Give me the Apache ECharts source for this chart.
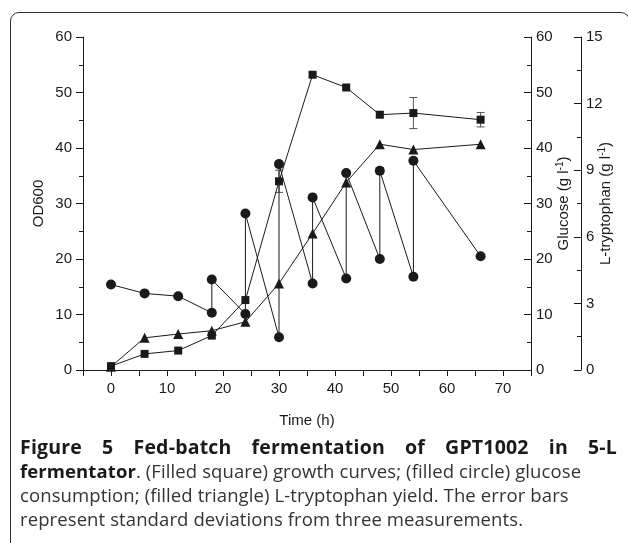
<!DOCTYPE html>
<html>
<head>
<meta charset="utf-8">
<script src="https://cdn.jsdelivr.net/npm/echarts@6/dist/echarts.min.js"></script>
<style>
  html, body { margin: 0; padding: 0; background: #fff; }
  #frame {
    position: absolute; left: 10px; top: 12px; width: 620px; height: 600px;
    border: 1.5px solid #333; border-radius: 9px; box-sizing: border-box;
  }
  #chart { position: absolute; left: 0; top: 0; width: 628px; height: 543px; }
  #caption {
    position: absolute; left: 20px; top: 435px; width: 597px;
    font-family: "Open Sans", "Noto Sans", sans-serif; font-size: 18.5px;
    letter-spacing: 0.1px; line-height: 24px; color: #333;
  }
  #caption div { white-space: nowrap; }
  #caption .first { text-align: justify; text-align-last: justify; white-space: normal; font-size: 19.5px; letter-spacing: 0.2px; }
  #caption b { color: #1a1a1a; }
</style>
</head>
<body>
<div id="frame"></div>
<div id="chart"></div>
<div id="caption">
  <div class="first"><b>Figure 5 Fed-batch fermentation of GPT1002 in 5-L</b></div>
  <div><b>fermentator</b>. (Filled square) growth curves; (filled circle) glucose</div>
  <div>consumption; (filled triangle) L-tryptophan yield. The error bars</div>
  <div>represent standard deviations from three measurements.</div>
</div>
<script>
// OD600 (filled squares)
var odTime = [0, 6, 12, 18, 24, 30, 36, 42, 48, 54, 66];
var od600 = [0.7, 2.9, 3.5, 6.2, 12.6, 34.0, 53.2, 50.9, 46.0, 46.3, 45.1];
var odErr = [0, 0, 0, 0, 0, 2.0, 0.3, 0.4, 0.5, 2.8, 1.3];

// glucose (filled circles), fed at each vertical jump
var glcTime = [0, 6, 12, 18, 18, 24, 24, 30, 30, 36, 36, 42, 42, 48, 48, 54, 54, 66];
var glucose = [15.4, 13.8, 13.3, 10.3, 16.3, 10.1, 28.2, 5.9, 37.1, 15.6, 31.1, 16.5, 35.5, 20.0, 35.9, 16.8, 37.7, 20.5];
var glcErr = [0, 0, 0, 0, 0, 0, 0, 0, 0, 0, 0, 0, 0.3, 0, 0.6, 0, 0, 0];

// L-tryptophan (filled triangles)
var trpTime = [0, 6, 12, 18, 24, 30, 36, 42, 48, 54, 66];
var tryptophan = [0.15, 1.45, 1.62, 1.77, 2.17, 3.9, 6.15, 8.45, 10.17, 9.93, 10.17];

var ink = '#1a1a1a';
var font = 'Liberation Sans';

function pairs(xs, ys) {
  return xs.map(function (x, i) { return [x, ys[i]]; });
}

function errorBars(xs, ys, errs, yIdx) {
  var data = [];
  xs.forEach(function (x, i) { if (errs[i] > 0) data.push([x, ys[i], errs[i]]); });
  return {
    type: 'custom',
    yAxisIndex: yIdx,
    z: 1,
    silent: true,
    data: data,
    renderItem: function (params, api) {
      var x = api.value(0), y = api.value(1), e = api.value(2);
      var hi = api.coord([x, y + e]);
      var lo = api.coord([x, y - e]);
      var w = 4;
      var st = { stroke: '#555', lineWidth: 1 };
      return {
        type: 'group',
        children: [
          { type: 'line', shape: { x1: hi[0], y1: hi[1], x2: lo[0], y2: lo[1] }, style: st },
          { type: 'line', shape: { x1: hi[0] - w, y1: hi[1], x2: hi[0] + w, y2: hi[1] }, style: st },
          { type: 'line', shape: { x1: lo[0] - w, y1: lo[1], x2: lo[0] + w, y2: lo[1] }, style: st }
        ]
      };
    }
  };
}

function lineSeries(data, yIdx, symbol, size) {
  return {
    type: 'line',
    yAxisIndex: yIdx,
    data: data,
    symbol: symbol,
    symbolSize: size,
    showAllSymbol: true,
    itemStyle: { color: ink, opacity: 1 },
    lineStyle: { color: ink, width: 1 },
    z: 3,
    animation: false
  };
}

var labelStyle = { color: ink, fontFamily: font, fontSize: 15 };
var nameStyle = {
  color: ink, fontFamily: font, fontSize: 15,
  rich: {
    b: { fontFamily: font, fontSize: 15, color: ink, lineHeight: 18 },
    sup: { fontFamily: font, fontSize: 10, color: ink, lineHeight: 10, verticalAlign: 'top' }
  }
};

var chart = echarts.init(document.getElementById('chart'));
chart.setOption({
  animation: false,
  grid: { left: 83, right: 97, top: 37, bottom: 173, outerBoundsMode: 'none', containLabel: false },
  xAxis: {
    type: 'value',
    min: -5, max: 75, interval: 5,
    name: 'Time (h)',
    nameLocation: 'middle',
    nameGap: 43,
    nameMoveOverlap: false,
    nameTextStyle: { color: ink, fontFamily: font, fontSize: 15 },
    axisLine: { onZero: false, lineStyle: { color: ink, width: 1 } },
    axisTick: { length: 6, lineStyle: { color: ink } },
    axisLabel: Object.assign({ margin: 11, formatter: function (v) { return v % 10 === 0 ? String(v) : ''; } }, labelStyle),
    splitLine: { show: false }
  },
  yAxis: [
    {
      type: 'value', position: 'left',
      min: 0, max: 60, interval: 10,
      name: 'OD600', nameLocation: 'middle', nameGap: 37, nameRotate: 90,
      nameMoveOverlap: false,
      nameTextStyle: { color: ink, fontFamily: font, fontSize: 15 },
      axisLine: { show: true, onZero: false, lineStyle: { color: ink, width: 1 } },
      axisTick: { length: 7, lineStyle: { color: ink } },
      minorTick: { show: true, splitNumber: 2, length: 4, lineStyle: { color: ink } },
      axisLabel: Object.assign({ margin: 11 }, labelStyle),
      splitLine: { show: false }
    },
    {
      type: 'value', position: 'right',
      min: 0, max: 60, interval: 10,
      name: '{b|Glucose (g l}{sup|-1}{b|)}', nameLocation: 'middle', nameGap: 24, nameRotate: 90,
      nameMoveOverlap: false,
      nameTextStyle: nameStyle,
      axisLine: { show: true, onZero: false, lineStyle: { color: ink, width: 1 } },
      axisTick: { inside: true, length: 7, lineStyle: { color: ink } },
      minorTick: { show: true, splitNumber: 2, length: 4, lineStyle: { color: ink } },
      axisLabel: Object.assign({ margin: 5 }, labelStyle),
      splitLine: { show: false }
    },
    {
      type: 'value', position: 'right', offset: 50,
      min: 0, max: 15, interval: 3,
      name: '{b|L-tryptophan (g l}{sup|-1}{b|)}', nameLocation: 'middle', nameGap: 16, nameRotate: 90,
      nameMoveOverlap: false,
      nameTextStyle: nameStyle,
      axisLine: { show: true, onZero: false, lineStyle: { color: ink, width: 1 } },
      axisTick: { inside: true, length: 7, lineStyle: { color: ink } },
      minorTick: { show: true, splitNumber: 2, length: 4, lineStyle: { color: ink } },
      axisLabel: Object.assign({ margin: 5 }, labelStyle),
      splitLine: { show: false }
    }
  ],
  series: [
    errorBars(odTime, od600, odErr, 0),
    errorBars(glcTime, glucose, glcErr, 1),
    lineSeries(pairs(odTime, od600), 0, 'rect', 8),
    lineSeries(pairs(glcTime, glucose), 1, 'circle', 10),
    lineSeries(pairs(trpTime, tryptophan), 2, 'triangle', 10)
  ]
});
</script>
</body>
</html>
